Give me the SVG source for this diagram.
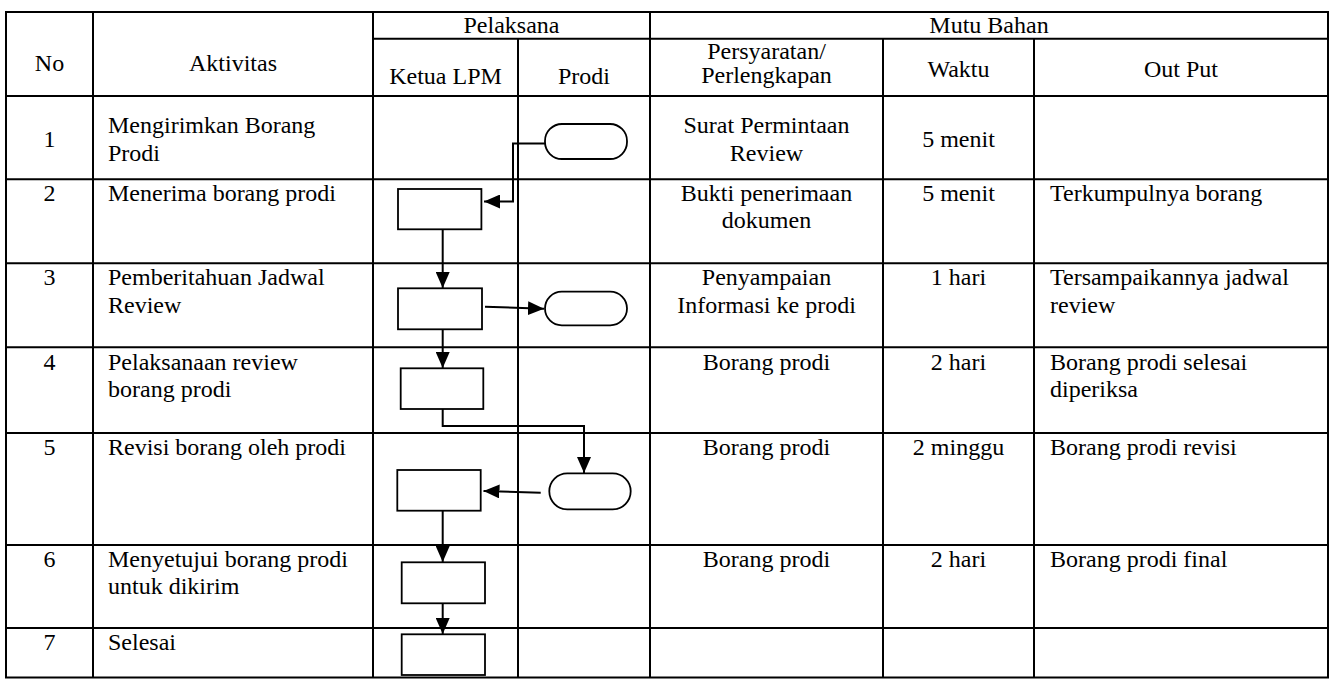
<svg xmlns="http://www.w3.org/2000/svg" width="1332" height="680" viewBox="0 0 1332 680">
<style>
.t{font-family:"Liberation Serif","Times New Roman",serif;font-size:24px;fill:#000}
.c{text-anchor:middle}
.grid line{stroke:#000;stroke-width:2}
.box{fill:#fff;stroke:#000;stroke-width:1.8}
.con{fill:none;stroke:#000;stroke-width:2;marker-end:url(#ah)}
</style>
<defs>
<marker id="ah" markerUnits="userSpaceOnUse" markerWidth="16" markerHeight="14" refX="16" refY="7" orient="auto">
<path d="M0,0 L16,7 L0,14 z" fill="#000"/>
</marker>
</defs>
<rect width="1332" height="680" fill="#fff"/>
<g id="grid" class="grid">
<line x1="5" y1="12" x2="1329" y2="12"/>
<line x1="373" y1="38.7" x2="1328" y2="38.7"/>
<line x1="6" y1="96" x2="1328" y2="96"/>
<line x1="6" y1="179.3" x2="1328" y2="179.3"/>
<line x1="6" y1="263.3" x2="1328" y2="263.3"/>
<line x1="6" y1="347.3" x2="1328" y2="347.3"/>
<line x1="6" y1="433" x2="1328" y2="433"/>
<line x1="6" y1="545" x2="1328" y2="545"/>
<line x1="6" y1="628" x2="1328" y2="628"/>
<line x1="5" y1="677.5" x2="1329" y2="677.5"/>
<line x1="6" y1="12" x2="6" y2="677.5"/>
<line x1="93" y1="12" x2="93" y2="677.5"/>
<line x1="373" y1="12" x2="373" y2="677.5"/>
<line x1="518" y1="38.7" x2="518" y2="677.5"/>
<line x1="650" y1="12" x2="650" y2="677.5"/>
<line x1="883" y1="38.7" x2="883" y2="677.5"/>
<line x1="1034" y1="38.7" x2="1034" y2="677.5"/>
<line x1="1328" y1="12" x2="1328" y2="677.5"/>
</g>
<g id="header" class="t">
<text class="c" x="49.5" y="71">No</text>
<text class="c" x="233" y="71">Aktivitas</text>
<text class="c" x="511.5" y="33">Pelaksana</text>
<text class="c" x="989" y="33">Mutu Bahan</text>
<text class="c" x="445.5" y="84">Ketua LPM</text>
<text class="c" x="584" y="84">Prodi</text>
<text class="c" x="766.5" y="59">Persyaratan/</text>
<text class="c" x="766.5" y="83">Perlengkapan</text>
<text class="c" x="958.5" y="77">Waktu</text>
<text class="c" x="1181" y="77">Out Put</text>
</g>
<g id="row1" class="t">
<text class="c" x="49.5" y="146.5">1</text>
<text x="108" y="133">Mengirimkan Borang</text>
<text x="108" y="160.5">Prodi</text>
<text class="c" x="766.5" y="133">Surat Permintaan</text>
<text class="c" x="766.5" y="160.5">Review</text>
<text class="c" x="958.5" y="146.5">5 menit</text>
</g>
<g id="row2" class="t">
<text class="c" x="49.5" y="200.5">2</text>
<text x="108" y="200.5">Menerima borang prodi</text>
<text class="c" x="766.5" y="200.5">Bukti penerimaan</text>
<text class="c" x="766.5" y="228">dokumen</text>
<text class="c" x="958.5" y="200.5">5 menit</text>
<text x="1050" y="200.5">Terkumpulnya borang</text>
</g>
<g id="row3" class="t">
<text class="c" x="49.5" y="285">3</text>
<text x="108" y="285">Pemberitahuan Jadwal</text>
<text x="108" y="312.5">Review</text>
<text class="c" x="766.5" y="285">Penyampaian</text>
<text class="c" x="766.5" y="312.5">Informasi ke prodi</text>
<text class="c" x="958.5" y="285">1 hari</text>
<text x="1050" y="285">Tersampaikannya jadwal</text>
<text x="1050" y="312.5">review</text>
</g>
<g id="row4" class="t">
<text class="c" x="49.5" y="369.5">4</text>
<text x="108" y="369.5">Pelaksanaan review</text>
<text x="108" y="397">borang prodi</text>
<text class="c" x="766.5" y="369.5">Borang prodi</text>
<text class="c" x="958.5" y="369.5">2 hari</text>
<text x="1050" y="369.5">Borang prodi selesai</text>
<text x="1050" y="397">diperiksa</text>
</g>
<g id="row5" class="t">
<text class="c" x="49.5" y="455">5</text>
<text x="108" y="455">Revisi borang oleh prodi</text>
<text class="c" x="766.5" y="455">Borang prodi</text>
<text class="c" x="958.5" y="455">2 minggu</text>
<text x="1050" y="455">Borang prodi revisi</text>
</g>
<g id="row6" class="t">
<text class="c" x="49.5" y="566.5">6</text>
<text x="108" y="566.5">Menyetujui borang prodi</text>
<text x="108" y="594">untuk dikirim</text>
<text class="c" x="766.5" y="566.5">Borang prodi</text>
<text class="c" x="958.5" y="566.5">2 hari</text>
<text x="1050" y="566.5">Borang prodi final</text>
</g>
<g id="row7" class="t">
<text class="c" x="49.5" y="650">7</text>
<text x="108" y="650">Selesai</text>
</g>
<g id="connectors">
<path class="con" d="M545,143.5 H513 V201.5 H484"/>
<path class="con" d="M442.7,229.3 V288"/>
<path class="con" d="M485,306.7 L544,308.7"/>
<path class="con" d="M442.7,329.3 V368"/>
<path class="con" d="M442.7,409 V426 H584 V473"/>
<path class="con" d="M540.7,492.7 L483.5,491"/>
<path class="con" d="M442.7,510.7 V562"/>
<path class="con" d="M442.7,603.3 V634"/>
</g>
<g id="t1"><rect class="box" x="545" y="124" width="82" height="35" rx="17"/></g>
<g id="r2"><rect class="box" x="398" y="189" width="83.4" height="40.3"/></g>
<g id="r3"><rect class="box" x="398" y="288.3" width="84" height="41"/></g>
<g id="t3"><rect class="box" x="545" y="291.7" width="82" height="33.6" rx="16.8"/></g>
<g id="r4"><rect class="box" x="400.7" y="368.3" width="82.6" height="40.7"/></g>
<g id="t5"><rect class="box" x="549.3" y="473.3" width="81.4" height="36" rx="18"/></g>
<g id="r5"><rect class="box" x="397.3" y="470" width="83.4" height="40.7"/></g>
<g id="r6"><rect class="box" x="401.7" y="562.3" width="83.3" height="41"/></g>
<g id="r7"><rect class="box" x="401.7" y="634.3" width="83.3" height="40.7"/></g>
</svg>
